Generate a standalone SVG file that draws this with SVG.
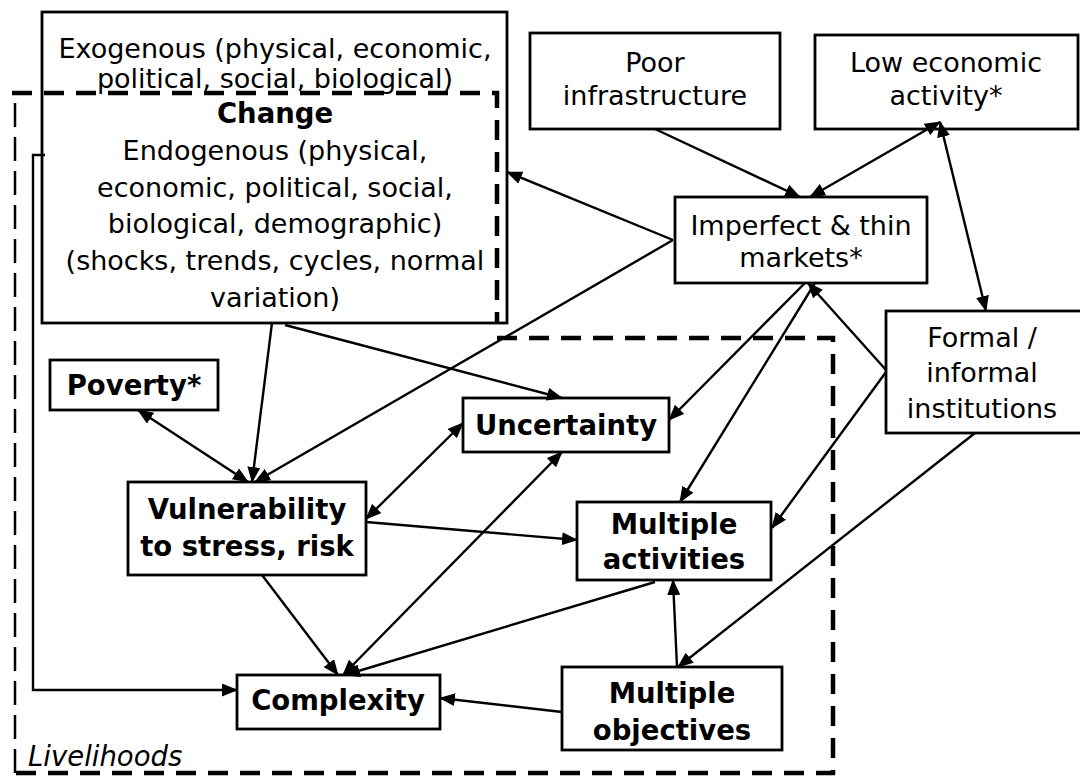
<svg xmlns="http://www.w3.org/2000/svg" width="1080" height="778" viewBox="0 0 1080 778">
  <style>
    .box { fill: #ffffff; stroke: #000000; stroke-width: 2.8; }
    .t { font-family: "DejaVu Sans", "Liberation Sans", sans-serif; font-size: 27px; fill: #000000; text-anchor: middle; }
    .b { font-family: "DejaVu Sans", "Liberation Sans", sans-serif; font-size: 27.5px; font-weight: bold; fill: #000000; text-anchor: middle; }
    .edge { fill: none; stroke: #000000; stroke-width: 2.4; }
    .bound { fill: none; stroke: #000000; stroke-width: 4.5; stroke-dasharray: 20 12; }
    .boundThin { fill: none; stroke: #000000; stroke-width: 2.5; stroke-dasharray: 24 10; }
    .lab { font-family: "DejaVu Sans", "Liberation Sans", sans-serif; font-size: 27.5px; font-style: italic; fill: #000000; }
  </style>
  <defs>
    <marker id="arrowEnd" viewBox="0 0 16 13" refX="15" refY="6.5" markerWidth="16" markerHeight="13" markerUnits="userSpaceOnUse" orient="auto">
      <path d="M0,0 L16,6.5 L0,13 Z" fill="#000000"/>
    </marker>
    <marker id="arrowStart" viewBox="0 0 16 13" refX="1" refY="6.5" markerWidth="16" markerHeight="13" markerUnits="userSpaceOnUse" orient="auto">
      <path d="M16,0 L0,6.5 L16,13 Z" fill="#000000"/>
    </marker>
  </defs>

  <rect width="1080" height="778" fill="#ffffff"/>

  <!-- Change -->
  <g id="change">
    <rect class="box" x="42" y="12" width="465" height="311"/>
    <text class="t" x="275" y="58">Exogenous (physical, economic,</text>
    <text class="t" x="275" y="88">political, social, biological)</text>
    <text class="b" x="275" y="123">Change</text>
    <text class="t" x="275" y="160">Endogenous (physical,</text>
    <text class="t" x="275" y="197">economic, political, social,</text>
    <text class="t" x="275" y="233">biological, demographic)</text>
    <text class="t" x="275" y="270">(shocks, trends, cycles, normal</text>
    <text class="t" x="275" y="307">variation)</text>
  </g>

  <!-- Livelihoods boundary -->
  <g id="livelihoods">
    <path class="bound" d="M12,93 H497 V323"/>
    <path class="bound" d="M497,338 H833 V773 H15"/>
    <path class="boundThin" d="M15,773 V98"/>
    <text class="lab" x="28" y="766">Livelihoods</text>
  </g>

  <g id="poor-infrastructure">
    <rect class="box" x="530" y="33" width="250" height="96"/>
    <text class="t" x="655" y="72">Poor</text>
    <text class="t" x="655" y="105">infrastructure</text>
  </g>

  <g id="low-economic-activity">
    <rect class="box" x="815" y="35" width="263" height="94"/>
    <text class="t" x="946" y="72">Low economic</text>
    <text class="t" x="946" y="105">activity*</text>
  </g>

  <g id="markets">
    <rect class="box" x="675" y="197" width="252" height="86"/>
    <text class="t" x="801" y="235">Imperfect &amp; thin</text>
    <text class="t" x="801" y="267">markets*</text>
  </g>

  <g id="institutions">
    <rect class="box" x="886" y="311" width="196" height="122"/>
    <text class="t" x="982" y="347">Formal /</text>
    <text class="t" x="982" y="382">informal</text>
    <text class="t" x="982" y="418">institutions</text>
  </g>

  <g id="poverty">
    <rect class="box" x="50" y="360" width="168" height="50"/>
    <text class="b" x="134" y="395">Poverty*</text>
  </g>

  <g id="uncertainty">
    <rect class="box" x="463" y="398" width="206" height="54"/>
    <text class="b" x="566" y="435">Uncertainty</text>
  </g>

  <g id="vulnerability">
    <rect class="box" x="128" y="482" width="238" height="93"/>
    <text class="b" x="247" y="519">Vulnerability</text>
    <text class="b" x="247" y="556">to stress, risk</text>
  </g>

  <g id="multiple-activities">
    <rect class="box" x="577" y="502" width="194" height="78"/>
    <text class="b" x="674" y="534">Multiple</text>
    <text class="b" x="674" y="569">activities</text>
  </g>

  <g id="complexity">
    <rect class="box" x="237" y="675" width="203" height="54"/>
    <text class="b" x="338" y="710">Complexity</text>
  </g>

  <g id="multiple-objectives">
    <rect class="box" x="562" y="667" width="220" height="83"/>
    <text class="b" x="672" y="703">Multiple</text>
    <text class="b" x="672" y="740">objectives</text>
  </g>

  <!-- Connectors -->
  <g id="connectors">
    <path class="edge" d="M45,155 H33 V690 H237" marker-end="url(#arrowEnd)"/>
    <line class="edge" x1="655" y1="129" x2="800" y2="197" marker-end="url(#arrowEnd)"/>
    <line class="edge" x1="940" y1="122" x2="810" y2="197" marker-start="url(#arrowStart)" marker-end="url(#arrowEnd)"/>
    <line class="edge" x1="940" y1="122" x2="986" y2="311" marker-start="url(#arrowStart)" marker-end="url(#arrowEnd)"/>
    <line class="edge" x1="673" y1="240" x2="507" y2="172" marker-end="url(#arrowEnd)"/>
    <line class="edge" x1="673" y1="240" x2="255" y2="482" marker-end="url(#arrowEnd)"/>
    <line class="edge" x1="805" y1="283" x2="669" y2="420" marker-end="url(#arrowEnd)"/>
    <line class="edge" x1="815" y1="283" x2="680" y2="502" marker-end="url(#arrowEnd)"/>
    <line class="edge" x1="886" y1="370" x2="808" y2="283" marker-end="url(#arrowEnd)"/>
    <line class="edge" x1="886" y1="372" x2="772" y2="528" marker-end="url(#arrowEnd)"/>
    <line class="edge" x1="975" y1="433" x2="678" y2="667" marker-end="url(#arrowEnd)"/>
    <line class="edge" x1="272" y1="323" x2="252" y2="482" marker-end="url(#arrowEnd)"/>
    <line class="edge" x1="285" y1="325" x2="562" y2="398" marker-end="url(#arrowEnd)"/>
    <line class="edge" x1="138" y1="410" x2="248" y2="482" marker-start="url(#arrowStart)" marker-end="url(#arrowEnd)"/>
    <line class="edge" x1="366" y1="519" x2="463" y2="423" marker-start="url(#arrowStart)" marker-end="url(#arrowEnd)"/>
    <line class="edge" x1="366" y1="522" x2="577" y2="540" marker-end="url(#arrowEnd)"/>
    <line class="edge" x1="262" y1="575" x2="338" y2="675" marker-end="url(#arrowEnd)"/>
    <line class="edge" x1="562" y1="452" x2="343" y2="675" marker-start="url(#arrowStart)" marker-end="url(#arrowEnd)"/>
    <line class="edge" x1="655" y1="582" x2="345" y2="675" marker-end="url(#arrowEnd)"/>
    <line class="edge" x1="677" y1="667" x2="673" y2="580" marker-end="url(#arrowEnd)"/>
    <line class="edge" x1="562" y1="712" x2="440" y2="698" marker-end="url(#arrowEnd)"/>
  </g>
</svg>
